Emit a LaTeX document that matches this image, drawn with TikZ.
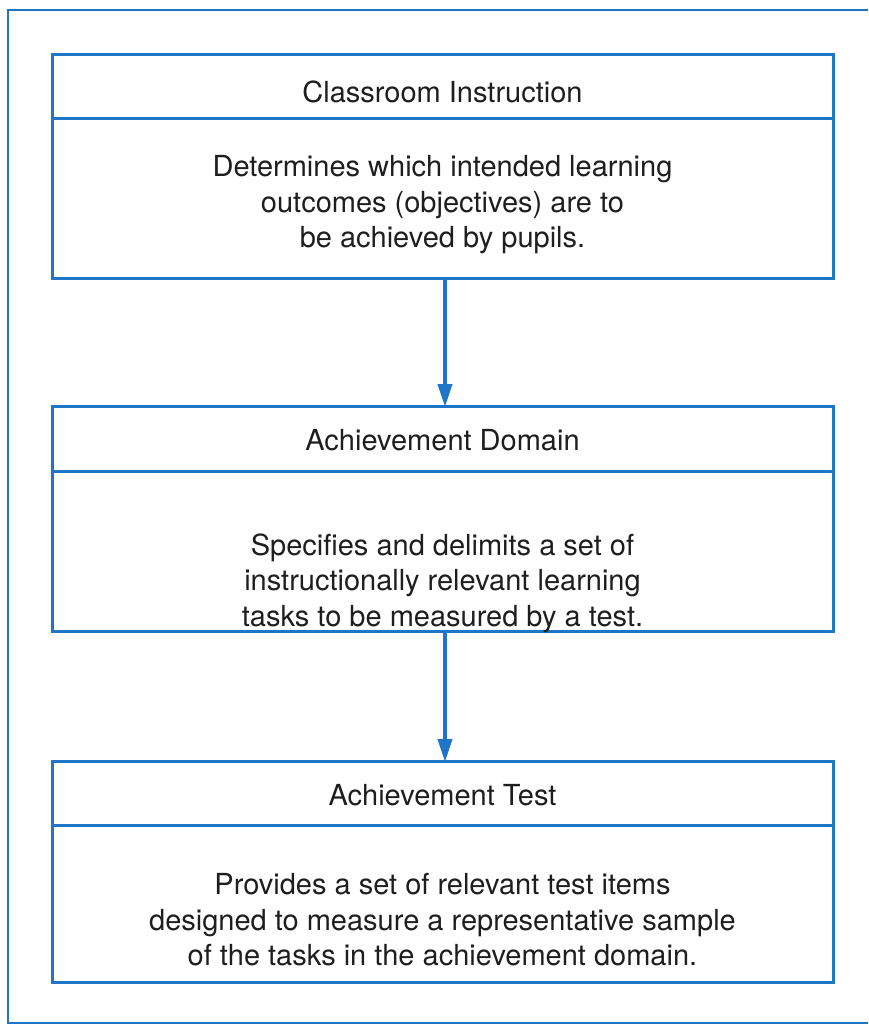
\documentclass[tikz,border=0pt]{standalone}
\usepackage{fontspec}
\setmainfont{TeX Gyre Heros}
\usetikzlibrary{arrows.meta}
\definecolor{lineblue}{RGB}{30,118,200}
\definecolor{ink}{RGB}{30,30,30}
\begin{document}
\begin{tikzpicture}[x=1pt,y=-1pt,
  panel/.style={draw=lineblue, line width=3pt, minimum width=781pt,
    inner sep=0pt, outer sep=0pt, anchor=north},
  headbox/.style={panel, minimum height=64pt},
  label/.style={text=ink, font=\fontsize{29}{35.5}\selectfont, align=center, inner sep=0pt},
  flow/.style={draw=lineblue, line width=3.8pt,
    -{Triangle[length=23pt,width=14pt]}, shorten >=-1pt}
]
\useasboundingbox (0,0) rectangle (868,1026);
% outer frame, running off the right edge
\draw[lineblue, line width=2.5pt] (868,10) -- (8,10) -- (8,1023) -- (868,1023);

% panel 1
\node[headbox] (h1) at (442.5,54) {};
\node[panel, minimum height=160pt] (b1) at (h1.south) {};
\node[label] (l1) at ([yshift=-6pt]h1.center) {Classroom Instruction};
\node[label] (t1) at (442.5,205) {Determines which intended learning\\outcomes (objectives) are to\\be achieved by pupils.};

% panel 2
\node[headbox, minimum height=65pt] (h2) at (442.5,406) {};
\node[panel, minimum height=160pt] (b2) at (h2.south) {};
\node[label] (l2) at ([yshift=-2pt]h2.center) {Achievement Domain};
\node[label] (t2) at (442.5,583) {Specifies and delimits a set of\\instructionally relevant learning\\tasks to be measured by a test.};

% panel 3
\node[headbox, minimum height=64pt] (h3) at (442.5,761) {};
\node[panel, minimum height=157pt] (b3) at (h3.south) {};
\node[label] (l3) at ([yshift=-2pt]h3.center) {Achievement Test};
\node[label] (t3) at (442.5,920) {Provides a set of relevant test items\\designed to measure a representative sample\\of the tasks in the achievement domain.};

% connectors
\draw[flow] (b1.south -| 445,0) -- (h2.north -| 445,0);
\draw[flow] (b2.south -| 445,0) -- (h3.north -| 445,0);
\end{tikzpicture}
\end{document}
